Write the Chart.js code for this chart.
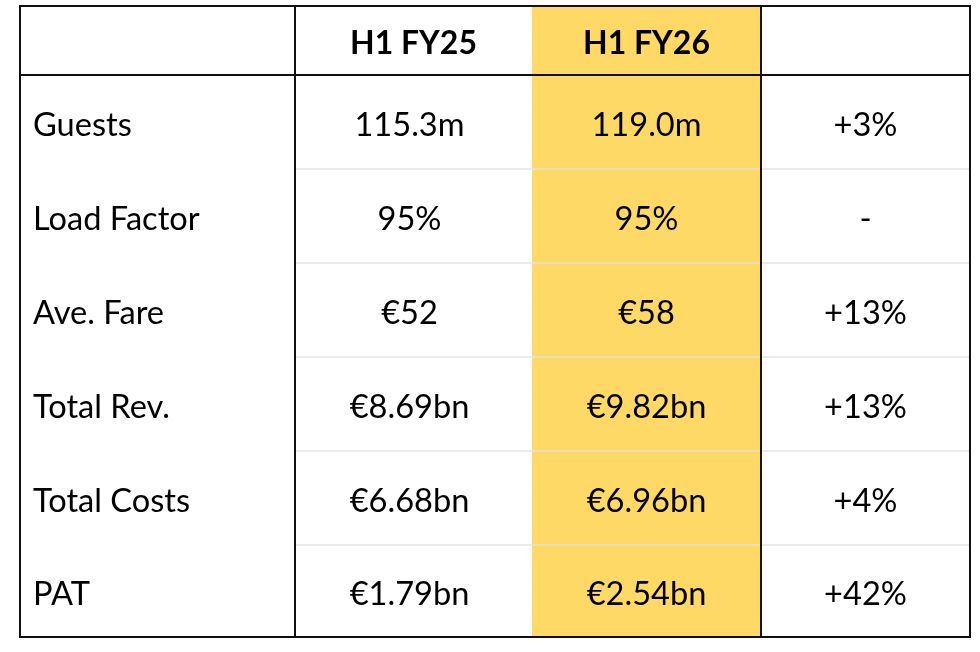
<!DOCTYPE html>
<html>
<head>
<meta charset="utf-8">
<script src="https://cdn.jsdelivr.net/npm/chart.js@4/dist/chart.umd.min.js"></script>
<style>
  html, body { margin: 0; padding: 0; background: #fff; }
  #table { display: block; }
</style>
</head>
<body>
<canvas id="table" width="980" height="652"></canvas>
<script>
// table content
const headers = ["", "H1 FY25", "H1 FY26", ""];
const metrics = ["Guests", "Load Factor", "Ave. Fare", "Total Rev.", "Total Costs", "PAT"];
const fy25 = ["115.3m", "95%", "€52", "€8.69bn", "€6.68bn", "€1.79bn"];
const fy26 = ["119.0m", "95%", "€58", "€9.82bn", "€6.96bn", "€2.54bn"];
const change = ["+3%", "-", "+13%", "+13%", "+4%", "+42%"];

// layout (scale units), kept apart from the data
const colEdges = [0, 275, 512, 741, 950];
const rowEdges = [0, 69, 163, 257, 351, 445, 539, 631];
const highlightCol = 2;
const FONT = "Lato, 'Open Sans', sans-serif";

const tablePlugin = {
  id: "tableDraw",
  beforeDatasetsDraw(chart) {
    const { ctx, scales: { x, y } } = chart;
    const px = (v) => x.getPixelForValue(v);
    const py = (v) => y.getPixelForValue(v);
    const top = py(rowEdges[0]);
    const bottom = py(rowEdges[rowEdges.length - 1]);
    const left = px(colEdges[0]);
    const right = px(colEdges[colEdges.length - 1]);

    ctx.save();
    // highlighted column
    ctx.fillStyle = "#FFD966";
    ctx.fillRect(px(colEdges[highlightCol]), top, px(colEdges[highlightCol + 1]) - px(colEdges[highlightCol]), bottom - top);

    // faint row separators (not in the label column)
    ctx.strokeStyle = "rgba(225,225,225,0.9)";
    ctx.lineWidth = 1.5;
    for (let r = 2; r < rowEdges.length - 1; r++) {
      ctx.beginPath();
      ctx.moveTo(px(colEdges[1]), py(rowEdges[r]));
      ctx.lineTo(right, py(rowEdges[r]));
      ctx.stroke();
    }

    // black rules
    ctx.strokeStyle = "#111";
    ctx.lineWidth = 2;
    ctx.strokeRect(left, top, right - left, bottom - top);
    ctx.beginPath();
    ctx.moveTo(left, py(rowEdges[1]));
    ctx.lineTo(right, py(rowEdges[1]));
    [1, 3].forEach((c) => {
      ctx.moveTo(px(colEdges[c]), top);
      ctx.lineTo(px(colEdges[c]), bottom);
    });
    ctx.stroke();

    // text
    ctx.fillStyle = "#000";
    ctx.textBaseline = "middle";
    const mid = (edges, i) => (edges[i] + edges[i + 1]) / 2;

    ctx.font = "bold 32px " + FONT;
    ctx.textAlign = "center";
    headers.forEach((h, c) => {
      if (h) ctx.fillText(h, px(mid(colEdges, c)), py(mid(rowEdges, 0)) + 3);
    });

    ctx.font = "32.6px " + FONT;
    metrics.forEach((m, i) => {
      const cy = py(mid(rowEdges, i + 1)) + 3;
      ctx.textAlign = "left";
      ctx.fillText(m, px(colEdges[0]) + 13, cy);
      ctx.textAlign = "center";
      ctx.fillText(fy25[i], px(mid(colEdges, 1)) - 4, cy);
      ctx.fillText(fy26[i], px(mid(colEdges, 2)), cy);
      ctx.fillText(change[i], px(mid(colEdges, 3)), cy);
    });
    ctx.restore();
  }
};

new Chart(document.getElementById("table"), {
  type: "scatter",
  data: { datasets: [{ data: [], pointRadius: 0 }] },
  options: {
    responsive: false,
    animation: false,
    layout: { padding: { left: 20, right: 10, top: 6, bottom: 15 } },
    plugins: { legend: { display: false }, tooltip: { enabled: false } },
    scales: {
      x: { type: "linear", min: colEdges[0], max: colEdges[colEdges.length - 1], display: false },
      y: { type: "linear", reverse: true, min: rowEdges[0], max: rowEdges[rowEdges.length - 1], display: false }
    }
  },
  plugins: [tablePlugin]
});
</script>
</body>
</html>
